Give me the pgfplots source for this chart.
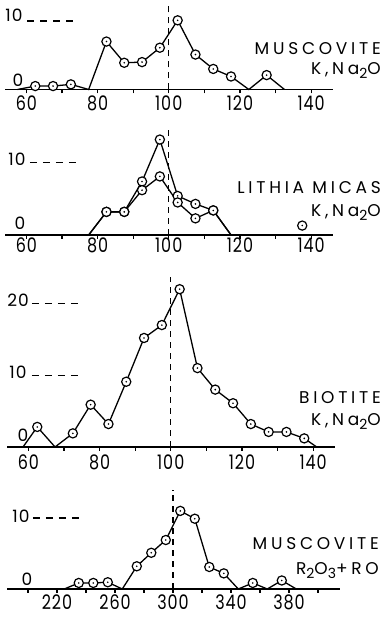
\documentclass[border=0pt]{standalone}
\usepackage{pgfplots}
\pgfplotsset{compat=1.18}
\usepackage{pgfplotstable}
\usepackage{graphicx}
\usepackage{fontspec}
\setmainfont{Poppins}
\newfontfamily\labfont{Poppins}[LetterSpace=22]
\newfontfamily\numfont{Poppins}[LetterSpace=6]

\pgfdeclareplotmark{odot}{%
  \pgfpathcircle{\pgfpointorigin}{\pgfplotmarksize}%
  \pgfsetfillcolor{white}%
  \pgfusepathqfillstroke
  \pgfpathcircle{\pgfpointorigin}{0.9pt}%
  \pgfsetfillcolor{black}%
  \pgfusepathqfill
}

% Panel 1: Muscovite K,Na2O
\pgfplotstableread{
x y
57.5 0
62.5 0.5
67.5 0.5
72.5 0.75
77.5 0
82.5 7.0
87.5 3.9
92.5 4.0
97.5 6.1
102.5 10.1
107.5 5.1
112.5 3.0
117.5 1.9
122.5 0
127.5 2.1
132.5 0
}\muscK
% Panel 2: Lithia micas, two series
\pgfplotstableread{
x y
77.5 0
82.5 3.2
87.5 3.2
92.5 7.4
97.5 13.2
102.5 5.4
107.5 4.3
112.5 3.4
117.5 0
}\lithA
\pgfplotstableread{
x y
77.5 0
82.5 3.2
87.5 3.2
92.5 6.2
97.5 8.1
102.5 4.5
107.5 2.3
112.5 3.4
117.5 0
}\lithB
\pgfplotstableread{
x y
137.5 1.3
}\lithC
% Panel 3: Biotite
\pgfplotstableread{
x y
58.5 0
62.5 2.8
67.5 0
72.5 1.9
77.5 5.9
82.5 3.2
87.5 9.1
92.5 15.2
97.5 17.0
102.5 22.0
107.5 11.0
112.5 8.0
117.5 6.1
122.5 3.2
127.5 2.1
132.5 2.1
137.5 1.2
141.0 0
}\biot
% Panel 4: Muscovite R2O3+RO
\pgfplotstableread{
x y
225 0
235 0.85
245 0.85
255 0.95
265 0
275 3.2
285 5.1
295 6.9
305 11.0
315 9.9
325 3.1
335 2.2
345 0
355 0.85
365 0
375 1.2
385 0
}\muscR

\pgfplotsset{
  panel/.style={
    scale only axis, anchor=south west, clip=false,
    axis x line*=bottom, axis y line=none,
    ymin=0,
    axis line style={line width=1.3pt, black},
    every tick/.style={line width=1.2pt, black},
    tick align=outside, major tick length=4pt, minor tick length=4pt,
    ytick=\empty,
    /pgf/number format/assume math mode=true,
    xticklabel={\scalebox{0.8}[1]{\pgfmathprintnumber{\tick}}},
    xticklabel style={font=\numfont\fontsize{20}{20}\selectfont, inner sep=2pt},
  },
  dataline/.style={black, line width=1.3pt, mark=none},
  datamarks/.style={only marks, mark=odot, mark size=4.6pt, line width=1.2pt, black,
    restrict y to domain=0.01:100},
  refline/.style={black, line width=1.2pt, dash pattern=on 6pt off 5pt},
  stub/.style={black, line width=1.2pt, dash pattern=on 7pt off 6pt},
}

\begin{document}
\begin{tikzpicture}[x=1pt,y=1pt]
\path[use as bounding box] (0pt,0pt) rectangle (385pt,617pt);

% ---------- Panel 1 ----------
\begin{axis}[panel, at={(5pt,527.5pt)}, width=327.5pt, height=85.6pt,
  xmin=54, xmax=146, ymax=12.5,
  xtick={60,80,...,140}, minor xtick={70,90,110,130},
  xticklabel style={yshift=0pt}]
  \addplot[refline] coordinates {(100,0) (100,12.5)};
  \addplot[stub] coordinates {(60.2,10) (74,10)};
  \addplot[dataline] table {\muscK};
  \addplot[datamarks] table {\muscK};
\end{axis}

% ---------- Panel 2 ----------
\begin{axis}[panel, at={(5pt,382pt)}, width=327.5pt, height=109.9pt,
  xmin=54, xmax=146, ymax=15.2,
  xtick={60,80,...,140}, minor xtick={70,90,110,130},
  xticklabel style={yshift=3pt}]
  \addplot[refline] coordinates {(100,0) (100,15.2)};
  \addplot[stub] coordinates {(61,10) (74.5,10)};
  \addplot[dataline] table {\lithA};
  \addplot[dataline] table {\lithB};
  \addplot[datamarks] table {\lithA};
  \addplot[datamarks] table {\lithB};
  \addplot[datamarks] table {\lithC};
\end{axis}

% ---------- Panel 3 ----------
\begin{axis}[panel, at={(7pt,170pt)}, width=327.5pt, height=170pt,
  xmin=54, xmax=146, ymax=23.7,
  xtick={60,80,...,140}, minor xtick={70,90,110,130},
  xticklabel style={yshift=-2pt}]
  \addplot[refline] coordinates {(100,0) (100,23.7)};
  \addplot[stub] coordinates {(61,20) (74.5,20)};
  \addplot[stub] coordinates {(61,10) (74.5,10)};
  \addplot[dataline] table {\biot};
  \addplot[datamarks] table {\biot};
\end{axis}

% ---------- Panel 4 ----------
\begin{axis}[panel, at={(7pt,28pt)}, width=332.8pt, height=99.4pt,
  xmin=185.5, xmax=415, ymax=14,
  xtick={220,260,...,380}, minor xtick={200,240,...,400},
  xticklabel style={yshift=0pt}]
  \addplot[refline] coordinates {(300,0) (300,14)};
  \addplot[stub] coordinates {(203.4,10) (237,10)};
  \addplot[dataline] table {\muscR};
  \addplot[datamarks] table {\muscR};
\end{axis}

% ---------- text labels ----------
\begin{scope}[every node/.style={inner sep=0pt, font=\numfont\fontsize{17}{17}\selectfont}]
  \node at (14pt,602pt) {10};
  \node at (18pt,537pt) {0};
  \node at (17pt,458pt) {10};
  \node at (20pt,394pt) {0};
  \node at (18pt,317pt) {20};
  \node at (18pt,245pt) {10};
  \node at (23pt,182pt) {0};
  \node at (21pt,101pt) {10};
  \node at (27pt,38pt) {0};
\end{scope}
\begin{scope}[every node/.style={inner sep=0pt, anchor=base east, font=\labfont\fontsize{17}{17}\selectfont}]
  \node at (381pt,562pt) {MUSCOVITE};
  \node at (381pt,542pt) {K,Na\raisebox{-4pt}{\fontsize{14}{14}\selectfont 2}O};
  \node at (381pt,423.7pt) {LITHIA MICAS};
  \node at (381pt,400.3pt) {K,Na\raisebox{-4pt}{\fontsize{14}{14}\selectfont 2}O};
  \node at (381pt,213.7pt) {BIOTITE};
  \node at (381pt,191pt) {K,Na\raisebox{-4pt}{\fontsize{14}{14}\selectfont 2}O};
  \node at (379pt,67pt) {MUSCOVITE};
  \node at (379pt,42pt) {R\raisebox{-4pt}{\fontsize{14}{14}\selectfont 2}O\raisebox{-4pt}{\fontsize{14}{14}\selectfont 3}+RO};
\end{scope}
\end{tikzpicture}
\end{document}
